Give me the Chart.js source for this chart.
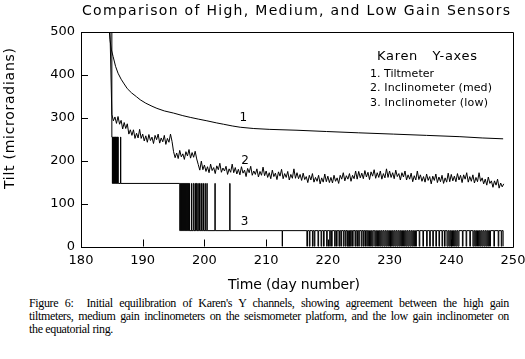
<!DOCTYPE html>
<html>
<head>
<meta charset="utf-8">
<script src="https://cdn.jsdelivr.net/npm/chart.js@4/dist/chart.umd.min.js"></script>
<style>
  html, body { margin: 0; padding: 0; background: #fff; }
  #wrap { position: relative; width: 525px; height: 359px; overflow: hidden; }
  #c { position: absolute; left: 0; top: 0; }
  #caption { position: absolute; left: 29px; top: 297px; width: 480px; font-family: "Liberation Serif", "DejaVu Serif", serif; font-size: 12px; line-height: 13px; letter-spacing: -0.35px; color: #000; }
  #caption .j { text-align: justify; text-align-last: justify; white-space: nowrap; }
</style>
</head>
<body>
<div id="wrap">
<canvas id="c" width="525" height="295"></canvas>
<div id="caption">
  <div class="j">Figure 6:&nbsp; Initial equilibration of Karen's Y channels, showing agreement between the high gain</div>
  <div class="j">tiltmeters, medium gain inclinometers on the seismometer platform, and the low gain inclinometer on</div>
  <div>the equatorial ring.</div>
</div>
</div>
<script>
// ---------- data ----------
const chartTitle = "Comparison of High, Medium, and Low Gain Sensors";
const xAxisTitle = "Time (day number)";
const yAxisTitle = "Tilt (microradians)";
const legendHeader = "Karen   Y-axes";
const legendItems = ["1. Tiltmeter", "2. Inclinometer (med)", "3. Inclinometer (low)"];
const curveLabels = ["1", "2", "3"];
const curveLabelDays = [206.3, 206.6, 206.5];
const curveLabelVals = [300, 200, 57];

// Series 1: tiltmeter (high gain)
const tiltDays = [184.6, 184.7, 184.9, 185.2, 185.6, 186.0, 186.5, 186.9, 187.5, 188.2, 189.0, 189.6, 190.5, 191.5, 192.3, 193.5, 195.0, 196.5, 197.7, 199.0, 200.4, 202.0, 203.1, 204.5, 205.8, 208.0, 210.6, 215.0, 219.8, 225.0, 230.6, 236.0, 241.4, 245.0, 248.4];
const tiltVals = [500, 482, 460, 443, 420, 404, 390, 381, 368, 358, 349, 342, 334, 327, 322, 316, 311, 305, 301, 297, 293, 288, 285, 281, 278, 275, 273, 271, 268, 265, 262, 259, 256, 253, 251];

// Series 2: inclinometer (medium gain), sampled every 0.25 day from day 185
const medHeadDays = [184.7];
const medHeadVals = [500];
const medStartDay = 185;
const medStepDays = 0.25;
const medVals = [
  308, 293, 302, 287, 303, 285, 294, 274, 289, 275, 286, 262, 272, 259, 272, 252, 264, 253, 273, 252,
  262, 246, 258, 243, 261, 247, 255, 240, 259, 249, 262, 241, 253, 244, 259, 238, 252, 243, 262, 245,
  221, 207, 218, 205, 224, 209, 216, 203, 221, 211, 226, 206, 219, 208, 222, 204, 191, 178, 199, 179,
  190, 175, 186, 172, 192, 177, 184, 170, 188, 179, 194, 173, 183, 176, 187, 168, 181, 173, 192, 172,
  184, 169, 180, 167, 186, 171, 178, 163, 182, 172, 187, 166, 176, 168, 181, 162, 175, 166, 185, 165,
  176, 161, 172, 158, 178, 163, 171, 156, 174, 164, 180, 158, 170, 161, 175, 155, 168, 159, 181, 159,
  172, 158, 168, 154, 171, 156, 163, 149, 166, 155, 170, 150, 161, 152, 166, 146, 160, 150, 169, 151,
  164, 149, 161, 148, 166, 152, 160, 147, 166, 157, 172, 153, 165, 157, 170, 152, 166, 158, 176, 157,
  175, 160, 171, 158, 177, 162, 173, 156, 174, 164, 179, 159, 172, 161, 176, 157, 170, 160, 181, 161,
  176, 161, 172, 158, 178, 163, 170, 155, 172, 162, 176, 155, 167, 157, 171, 151, 165, 155, 176, 156,
  167, 152, 163, 150, 169, 154, 163, 146, 164, 154, 169, 149, 162, 151, 166, 147, 160, 150, 171, 151,
  168, 153, 164, 151, 170, 155, 166, 149, 167, 157, 172, 150, 163, 152, 167, 148, 161, 151, 172, 152,
  160, 146, 157, 143, 162, 147, 153, 138, 153, 143, 157, 136, 148, 139, 146
];

// Series 3: inclinometer (low gain), quantised levels, held until next change [day, value]
const lowSteps = [
  [184.6, 500], [185.0, 255], [185.08, 147], [185.12, 255], [185.2, 147], [185.24, 255], [185.32, 147], [185.36, 255],
  [185.44, 147], [185.48, 255], [185.56, 147], [185.6, 255], [185.68, 147], [185.72, 255], [185.8, 147], [185.84, 255],
  [185.92, 147], [185.96, 255], [186.04, 147], [186.4, 255], [186.45, 147],
  [196.0, 37], [196.1, 147], [196.18, 37], [196.26, 147], [196.34, 37], [196.42, 147], [196.5, 37], [196.58, 147],
  [196.66, 37], [196.74, 147], [196.82, 37], [196.9, 147], [196.98, 37], [197.06, 147], [197.14, 37], [197.22, 147],
  [197.3, 37], [197.38, 147], [197.46, 37], [197.54, 147], [197.6, 37], [197.9, 147], [197.95, 37], [198.2, 147],
  [198.3, 37], [198.5, 147], [198.56, 37], [198.7, 147], [198.8, 37], [198.95, 147], [199.0, 37], [199.2, 147],
  [199.3, 37], [199.5, 147], [199.55, 37], [199.75, 147], [199.85, 37], [200.1, 147], [200.15, 37], [200.4, 147],
  [200.45, 37], [201.7, 147], [201.75, 37], [204.1, 147], [204.15, 37],
  [212.6, 0], [212.65, 37],
  [216.6, 0], [216.7, 37], [217.0, 0], [217.1, 37], [217.5, 0], [217.6, 37], [217.8, 0], [217.9, 37],
  [218.4, 0], [218.5, 37], [218.9, 0], [219.0, 37], [219.3, 0], [219.4, 37], [219.8, 0], [219.9, 37],
  [220.3, 0], [220.4, 37], [220.6, 0], [220.7, 37], [221.1, 0], [221.2, 37], [221.4, 0], [221.5, 37],
  [221.8, 0], [221.9, 37], [222.1, 0], [222.2, 37], [222.5, 0], [222.6, 37], [222.8, 0], [222.9, 37],
  [223.1, 0], [223.2, 37], [223.3, 0], [223.4, 37], [223.5, 0], [223.6, 37], [223.7, 0], [223.8, 37],
  [224.0, 0], [224.1, 37], [224.4, 0], [224.5, 37], [224.7, 0], [224.8, 37], [225.0, 0], [225.1, 37],
  [225.4, 0], [225.5, 37], [225.7, 0], [225.8, 37], [226.0, 0], [226.1, 37], [226.3, 0], [226.4, 37],
  [226.6, 0], [226.75, 37], [226.9, 0], [227.05, 37], [227.2, 0], [227.35, 37],
  [227.6, 0], [227.75, 37], [227.9, 0], [228.05, 37], [228.2, 0], [228.35, 37], [228.5, 0], [228.65, 37],
  [228.8, 0], [228.95, 37], [229.1, 0], [229.25, 37], [229.4, 0], [229.55, 37], [229.7, 0], [229.85, 37],
  [230.0, 0], [230.15, 37], [230.3, 0], [230.45, 37], [230.6, 0], [230.75, 37], [230.9, 0], [231.05, 37],
  [231.2, 0], [231.35, 37], [231.5, 0], [231.65, 37], [231.8, 0], [231.95, 37], [232.1, 0], [232.25, 37],
  [232.4, 0], [232.55, 37], [232.7, 0], [232.85, 37], [233.0, 0], [233.15, 37], [233.3, 0], [233.45, 37],
  [233.6, 0], [233.75, 37], [233.9, 0], [234.05, 37], [234.2, 0], [234.35, 37],
  [234.8, 0], [234.9, 37], [235.4, 0], [235.5, 37], [236.0, 0], [236.1, 37], [236.5, 0], [236.6, 37],
  [237.0, 0], [237.1, 37], [237.5, 0], [237.6, 37], [238.0, 0], [238.1, 37], [238.5, 0], [238.6, 37],
  [238.9, 0], [239.0, 37],
  [239.3, 0], [239.45, 37], [239.6, 0], [239.75, 37], [239.9, 0], [240.05, 37], [240.2, 0], [240.35, 37],
  [240.5, 0], [240.65, 37], [240.8, 0], [240.95, 37], [241.1, 0], [241.25, 37],
  [241.8, 0], [241.9, 37], [242.4, 0], [242.5, 37], [243.0, 0], [243.1, 37],
  [243.5, 0], [243.65, 37], [243.8, 0], [243.95, 37], [244.1, 0], [244.25, 37], [244.4, 0], [244.55, 37],
  [244.7, 0], [244.85, 37], [245.0, 0], [245.15, 37], [245.3, 0], [245.45, 37], [245.6, 0], [245.75, 37],
  [245.9, 0], [246.05, 37], [246.2, 0], [246.35, 37],
  [246.9, 0], [247.0, 37], [247.6, 0], [247.7, 37], [248.1, 0], [248.2, 37], [248.4, 0]
];

// ---------- build datasets ----------
const tiltData = tiltDays.map((d, i) => ({ x: d, y: tiltVals[i] }));
const medData = medHeadDays.map((d, i) => ({ x: d, y: medHeadVals[i] }))
  .concat(medVals.map((v, i) => ({ x: medStartDay + i * medStepDays, y: v })));
const lowData = lowSteps.map(p => ({ x: p[0], y: p[1] }));

const FONT = '"DejaVu Sans", sans-serif';

function fitText(ctx, text, x, y, width, size) {
  ctx.font = size + 'px ' + FONT;
  ctx.letterSpacing = '0px';
  const w = ctx.measureText(text).width;
  const ls = (width - w) / Math.max(1, text.length - 1);
  ctx.letterSpacing = ls + 'px';
  ctx.fillText(text, x, y);
  ctx.letterSpacing = '0px';
}

const framePlugin = {
  id: 'frame',
  afterDatasetsDraw(chart) {
    const ctx = chart.ctx;
    const a = chart.chartArea;
    const xs = chart.scales.x, ys = chart.scales.y;
    ctx.save();
    ctx.strokeStyle = '#000';
    ctx.lineWidth = 1;
    ctx.beginPath();
    ctx.rect(Math.round(a.left) + 0.5, Math.round(a.top) + 0.5, Math.round(a.right - a.left), Math.round(a.bottom - a.top));
    // inward ticks
    xs.ticks.forEach(t => {
      const px = Math.round(xs.getPixelForValue(t.value)) + 0.5;
      ctx.moveTo(px, a.bottom);
      ctx.lineTo(px, a.bottom - 7);
    });
    ys.ticks.forEach(t => {
      const py = Math.round(ys.getPixelForValue(t.value)) + 0.5;
      ctx.moveTo(a.left, py);
      ctx.lineTo(a.left + 7, py);
    });
    ctx.stroke();

    ctx.fillStyle = '#000';
    ctx.textBaseline = 'alphabetic';
    ctx.textAlign = 'left';
    // title
    fitText(ctx, chartTitle, 82, 15, 428, 14);
    // x title
    fitText(ctx, xAxisTitle, 228, 289, 132, 14);
    // y title (rotated)
    ctx.save();
    ctx.translate(14, 189);
    ctx.rotate(-Math.PI / 2);
    fitText(ctx, yAxisTitle, 0, 0, 141, 14);
    ctx.restore();
    // legend block
    fitText(ctx, legendHeader, 377, 60, 100, 13);
    fitText(ctx, legendItems[0], 370, 77, 64, 11);
    fitText(ctx, legendItems[1], 370, 91, 122, 11);
    fitText(ctx, legendItems[2], 370, 106, 118, 11);
    // curve labels
    ctx.font = '12px ' + FONT;
    ctx.textAlign = 'center';
    ctx.textBaseline = 'middle';
    curveLabels.forEach((s, i) => {
      ctx.fillText(s, xs.getPixelForValue(curveLabelDays[i]), ys.getPixelForValue(curveLabelVals[i]));
    });
    ctx.restore();
  }
};

new Chart(document.getElementById('c'), {
  type: 'line',
  data: {
    datasets: [
      { label: 'Tiltmeter', data: tiltData, borderColor: '#000', borderWidth: 1, pointRadius: 0, tension: 0, fill: false },
      { label: 'Inclinometer (med)', data: medData, borderColor: '#000', borderWidth: 1, pointRadius: 0, tension: 0, fill: false },
      { label: 'Inclinometer (low)', data: lowData, borderColor: '#000', borderWidth: 1, pointRadius: 0, stepped: 'before', fill: false }
    ]
  },
  options: {
    responsive: false,
    animation: false,
    devicePixelRatio: 1,
    layout: { padding: { top: 32, right: 12, left: 0, bottom: 0 } },
    plugins: { legend: { display: false }, title: { display: false }, tooltip: { enabled: false } },
    scales: {
      x: {
        type: 'linear', min: 180, max: 250,
        grid: { display: false, drawTicks: false },
        border: { display: false },
        ticks: { stepSize: 10, padding: 6, color: '#000', font: { family: FONT, size: 13 }, maxRotation: 0, autoSkip: false },
        afterFit(s) { s.height = 48.5; s.paddingLeft = 0; s.paddingRight = 0; }
      },
      y: {
        type: 'linear', min: 0, max: 500,
        grid: { display: false, drawTicks: false },
        border: { display: false },
        ticks: { stepSize: 100, padding: 6, color: '#000', font: { family: FONT, size: 13 } },
        afterFit(s) { s.width = 81; s.paddingTop = 0; s.paddingBottom = 0; }
      }
    }
  },
  plugins: [framePlugin]
});
</script>
</body>
</html>
